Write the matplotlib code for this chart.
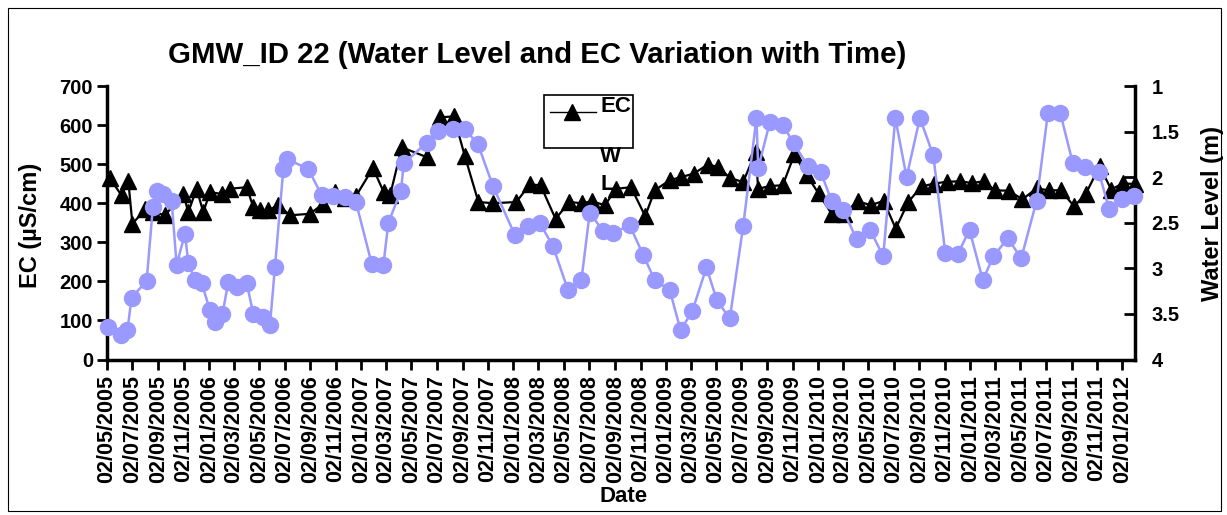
import matplotlib
matplotlib.use('Agg')
import matplotlib.pyplot as plt
import matplotlib.dates as mdates
import pandas as pd
from matplotlib.patches import Rectangle
from matplotlib.lines import Line2D

# ---------------- data ----------------
start_date = "2005-05-02"
end_date = "2012-02-01"

# EC series: sampling day (days after 02/05/2005) and EC (uS/cm)
ec_day = [6, 35, 51, 61, 91, 110, 139, 183, 195, 215, 231, 247, 275, 295, 335,
          351, 367, 387, 411, 439, 487, 519, 547, 571, 597, 638, 664, 679, 707,
          767, 799, 832, 858, 891, 926, 982, 1014, 1040, 1076, 1109, 1139, 1163,
          1194, 1222, 1257, 1291, 1314, 1350, 1378, 1408, 1441, 1466, 1494, 1526,
          1556, 1562, 1591, 1621, 1649, 1679, 1707, 1738, 1767, 1801, 1832, 1863,
          1892, 1922, 1954, 1983, 2014, 2046, 2074, 2104, 2129, 2163, 2196, 2230,
          2259, 2288, 2320, 2348, 2381, 2409, 2437, 2465]
ec_value = [465, 420, 458, 347, 384, 378, 369, 424, 377, 437, 377, 428, 424, 437, 441,
            390, 382, 382, 395, 369, 373, 399, 428, 414, 418, 490, 428, 420, 543,
            518, 620, 622, 522, 403, 400, 403, 448, 446, 360, 403, 400, 405,
            395, 437, 441, 367, 433, 459, 467, 476, 499, 493, 465, 454,
            531, 437, 444, 446, 525, 471, 425, 373, 373, 405, 395, 406,
            335, 403, 443, 450, 455, 456, 452, 456, 433, 432, 410, 438,
            433, 433, 392, 424, 495, 435, 451, 449]

# Water level series: sampling day (days after 02/05/2005) and level (m)
wl_day = [3, 33, 49, 59, 95, 110, 121, 135, 155, 167, 187, 195, 211, 227, 247, 259,
          277, 291, 311, 335, 351, 375, 391, 403, 423, 431, 483, 515, 543, 571, 597,
          635, 663, 675, 705, 712, 767, 794, 830, 858, 890, 926, 978, 1010, 1038,
          1070, 1106, 1138, 1158, 1190, 1214, 1254, 1286, 1314, 1350, 1376, 1404,
          1438, 1463, 1494, 1526, 1558, 1562, 1590, 1622, 1647, 1682, 1712, 1738,
          1766, 1798, 1831, 1862, 1891, 1918, 1950, 1982, 2011, 2041, 2069, 2101,
          2126, 2161, 2193, 2230, 2257, 2287, 2317, 2345, 2379, 2404, 2436, 2464]
wl_value = [3.64, 3.73, 3.68, 3.32, 3.14, 2.33, 2.15, 2.19, 2.26, 2.96, 2.62, 2.94,
            3.13, 3.16, 3.46, 3.59, 3.50, 3.15, 3.20, 3.16, 3.50, 3.53, 3.62, 2.98,
            1.91, 1.80, 1.91, 2.20, 2.21, 2.22, 2.27, 2.95, 2.96, 2.50, 2.15, 1.85,
            1.62, 1.49, 1.47, 1.47, 1.64, 2.10, 2.63, 2.54, 2.50, 2.76, 3.24, 3.13,
            2.39, 2.59, 2.61, 2.53, 2.85, 3.13, 3.24, 3.68, 3.47, 2.99, 3.35, 3.55,
            2.54, 1.35, 1.90, 1.40, 1.43, 1.63, 1.88, 1.94, 2.26, 2.36, 2.68, 2.58,
            2.87, 1.35, 2.00, 1.35, 1.76, 2.83, 2.84, 2.58, 3.13, 2.87, 2.67, 2.89,
            2.26, 1.30, 1.30, 1.85, 1.89, 1.94, 2.35, 2.24, 2.21]

ec_ticks = [0, 100, 200, 300, 400, 500, 600, 700]
wl_ticks = [1, 1.5, 2, 2.5, 3, 3.5, 4]
wl_tick_labels = ["1", "1.5", "2", "2.5", "3", "3.5", "4"]

title = "GMW_ID 22 (Water Level and EC Variation with Time)"

# ---------------- figure ----------------
plt.rcParams['font.family'] = ['Liberation Sans', 'DejaVu Sans']
plt.rcParams['font.weight'] = 'bold'

W, H = 1227, 515
fig = plt.figure(figsize=(W / 100, H / 100), dpi=100)

def fx(px):
    return px / W

def fy(py):
    return 1 - py / H

start = pd.Timestamp(start_date)
ec_dates = start + pd.to_timedelta(ec_day, unit='D')
wl_dates = start + pd.to_timedelta(wl_day, unit='D')

ax = fig.add_axes([fx(107), fy(359.5), fx(1135) - fx(107), fy(86) - fy(359.5)])
ax.plot(ec_dates, ec_value, color='black', lw=1.6, marker='^', ms=11.5,
        clip_on=False, zorder=3)
ax.set_ylim(0, 700)
ax.set_yticks(ec_ticks)
ax.set_xlim(start, pd.Timestamp(end_date))
ax.xaxis.set_major_locator(mdates.MonthLocator(bymonth=[1, 3, 5, 7, 9, 11], bymonthday=2))
ax.xaxis.set_major_formatter(mdates.DateFormatter('%d/%m/%Y'))
for lab in ax.get_xticklabels():
    lab.set_rotation(90)
ax.tick_params(axis='x', direction='out', length=7, width=2, labelsize=15.5, pad=4)
ax.tick_params(axis='y', direction='out', length=7, width=2, labelsize=14.5, pad=3)
for lab in ax.get_xticklabels() + ax.get_yticklabels():
    lab.set_fontweight('bold')
ax.spines['top'].set_visible(False)
ax.spines['right'].set_visible(False)
ax.spines['left'].set_linewidth(2.5)
ax.spines['bottom'].set_linewidth(2.5)

ax2 = ax.twinx()
ax2.plot(wl_dates, wl_value, color='#9999FF', lw=1.8, marker='o', ms=11.5,
         clip_on=False, zorder=4)
ax2.set_ylim(4, 1)
ax2.set_yticks(wl_ticks)
ax2.set_yticklabels(wl_tick_labels)
ax2.tick_params(axis='y', direction='in', length=8, width=2, labelsize=14.5, pad=12)
for lab in ax2.get_yticklabels():
    lab.set_fontweight('bold')
ax2.spines['top'].set_visible(False)
ax2.spines['left'].set_visible(False)
ax2.spines['bottom'].set_visible(False)
ax2.spines['right'].set_linewidth(2.5)

# texts
fig.text(fx(537), fy(55), title, ha='center', va='center', fontsize=21.2, fontweight='bold')
fig.text(fx(30), fy(225), 'EC (µS/cm)', rotation=90, ha='center', va='center',
         fontsize=17, fontweight='bold')
fig.text(fx(1213), fy(213), 'Water Level (m)', rotation=90, ha='center', va='center',
         fontsize=17, fontweight='bold')
fig.text(fx(624), fy(496), 'Date', ha='center', va='center', fontsize=16, fontweight='bold')

# legend (manual, as in the original)
fig.patches.append(Rectangle((fx(544), fy(148)), fx(633) - fx(544), fy(95) - fy(148),
                             transform=fig.transFigure, fill=False, edgecolor='black', lw=1.2))
fig.lines.append(Line2D([fx(550), fx(596)], [fy(111.5), fy(111.5)], transform=fig.transFigure,
                        color='black', lw=1))
fig.lines.append(Line2D([fx(571.5)], [fy(111.5)], transform=fig.transFigure, color='black',
                        marker='^', ms=11.5, lw=0))
fig.text(fx(600), fy(107), 'EC', ha='left', va='center', fontsize=16, fontweight='bold')
fig.text(fx(600), fy(156), 'W', ha='left', va='center', fontsize=16, fontweight='bold')
fig.text(fx(600), fy(184), 'L', ha='left', va='center', fontsize=16, fontweight='bold')

# chart border
fig.patches.append(Rectangle((fx(8), fy(511)), fx(1221) - fx(8), fy(8) - fy(511),
                             transform=fig.transFigure, fill=False, edgecolor='black', lw=0.8))

fig.savefig('out.png', dpi=100)
